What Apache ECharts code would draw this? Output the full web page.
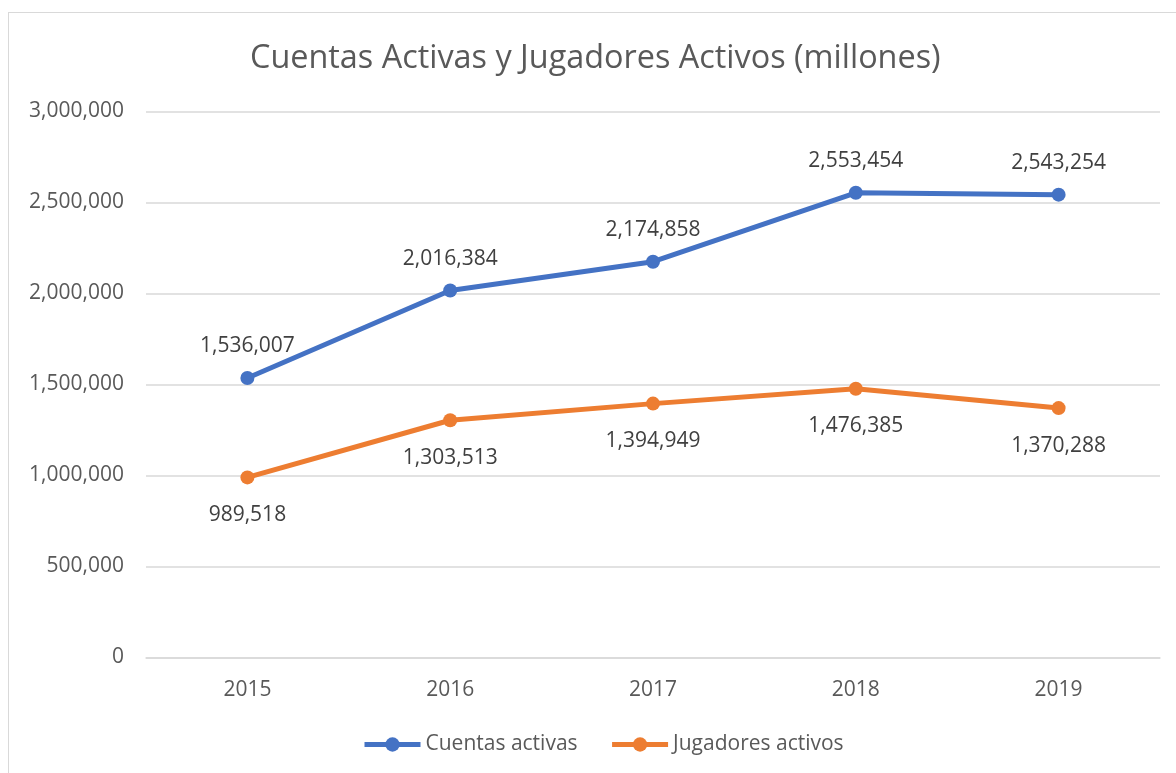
<!DOCTYPE html>
<html lang="es">
<head>
<meta charset="UTF-8">
<title>Cuentas Activas y Jugadores Activos</title>
<script src="https://cdn.jsdelivr.net/npm/echarts@6/dist/echarts.min.js"></script>
<style>
  html, body { margin: 0; padding: 0; background: #fff; overflow: hidden; }
  #frame { position: absolute; left: 8px; top: 12px; width: 1200px; height: 800px; border: 1px solid #d9d9d9; }
  #main { position: absolute; left: 0; top: 0; width: 1176px; height: 773px; }
</style>
</head>
<body>
<div id="frame"></div>
<div id="main"></div>
<script type="text/javascript">
    // datos
    var years = ['2015', '2016', '2017', '2018', '2019'];
    var cuentasActivas = [1536007, 2016384, 2174858, 2553454, 2543254];
    var jugadoresActivos = [989518, 1303513, 1394949, 1476385, 1370288];

    var fmt = function (v) { return Number(v).toLocaleString('en-US'); };
    var font = '"Open Sans", "Noto Sans", sans-serif';

    var myChart = echarts.init(document.getElementById('main'));
    var option = {
        animation: false,
        title: {
            text: 'Cuentas Activas y Jugadores Activos (millones)',
            left: 245,
            top: 38,
            textStyle: { color: '#595959', fontSize: 32.4, fontWeight: 'normal', fontFamily: font }
        },
        legend: {
            bottom: 13,
            left: 357,
            itemWidth: 56,
            itemHeight: 18,
            itemGap: 32,
            lineStyle: { width: 5 },
            textStyle: { color: '#595959', fontSize: 21, fontFamily: font },
            data: ['Cuentas activas', 'Jugadores activos']
        },
        grid: { left: 146, right: 16, top: 111.5, bottom: 115.5 },
        xAxis: {
            type: 'category',
            data: years,
            axisLine: { lineStyle: { color: '#d9d9d9', width: 1.5 } },
            axisTick: { show: false },
            axisLabel: { color: '#595959', fontSize: 21, fontFamily: font, margin: 22 }
        },
        yAxis: {
            type: 'value',
            min: 0,
            max: 3000000,
            interval: 500000,
            axisLine: { show: false },
            axisTick: { show: false },
            splitLine: { lineStyle: { color: '#d9d9d9', width: 1.5 } },
            axisLabel: { color: '#595959', fontSize: 21, fontFamily: font, margin: 22, formatter: fmt }
        },
        series: [{
            name: 'Cuentas activas',
            type: 'line',
            data: cuentasActivas,
            symbol: 'circle',
            symbolSize: 14,
            color: '#4472c4',
            lineStyle: { width: 5 },
            label: { show: true, position: 'top', distance: 14, color: '#404040', fontSize: 21, fontFamily: font, formatter: function (p) { return fmt(p.value); } }
        }, {
            name: 'Jugadores activos',
            type: 'line',
            data: jugadoresActivos,
            symbol: 'circle',
            symbolSize: 14,
            color: '#ed7d31',
            lineStyle: { width: 5 },
            label: { show: true, position: 'bottom', distance: 20, color: '#404040', fontSize: 21, fontFamily: font, formatter: function (p) { return fmt(p.value); } }
        }]
    };
    myChart.setOption(option);
</script>
</body>
</html>
